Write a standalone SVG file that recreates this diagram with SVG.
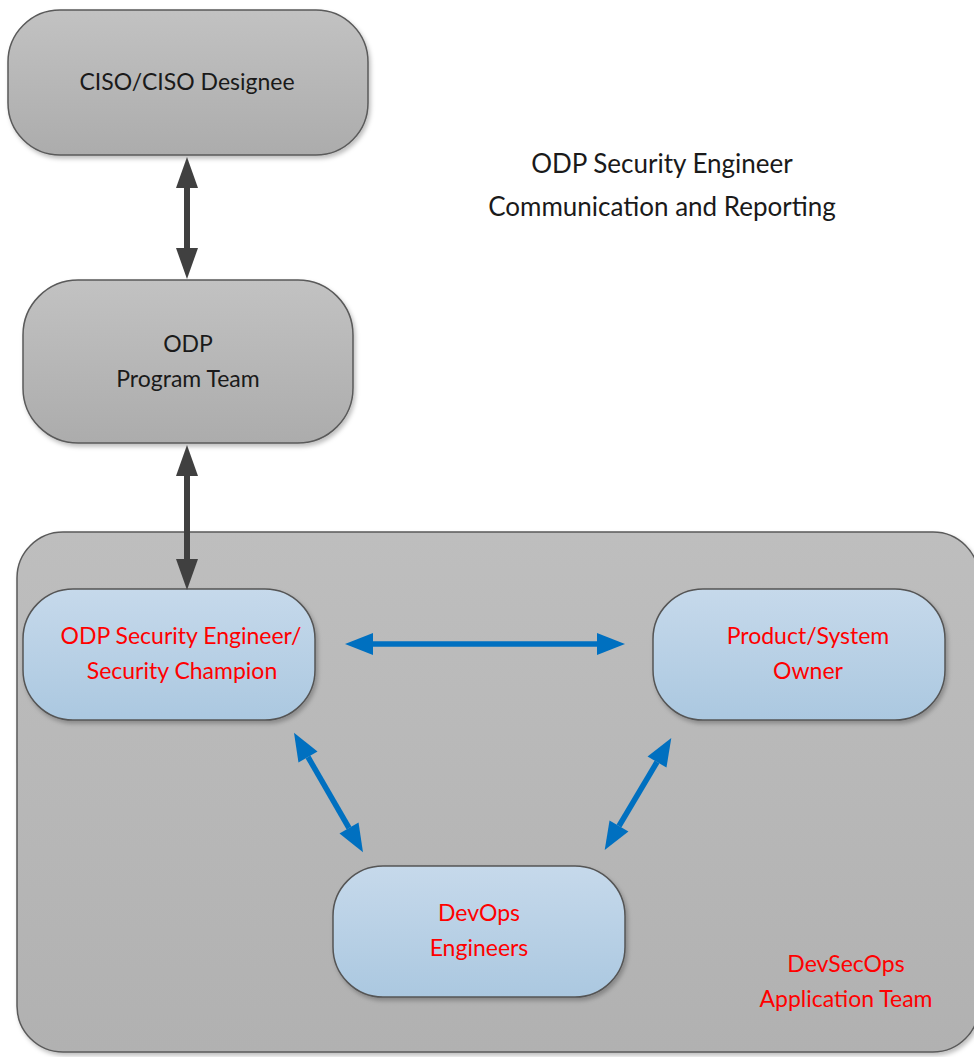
<svg xmlns="http://www.w3.org/2000/svg" width="974" height="1057" viewBox="0 0 974 1057">
<defs>
<linearGradient id="gGray" x1="0" y1="0" x2="0" y2="1">
<stop offset="0" stop-color="#c2c2c2"/><stop offset="1" stop-color="#acacac"/>
</linearGradient>
<linearGradient id="gCont" x1="0" y1="0" x2="0" y2="1">
<stop offset="0" stop-color="#bebebe"/><stop offset="1" stop-color="#b1b1b1"/>
</linearGradient>
<linearGradient id="gBlue" x1="0" y1="0" x2="0" y2="1">
<stop offset="0" stop-color="#c6d9eb"/><stop offset="1" stop-color="#abc8e0"/>
</linearGradient>
<filter id="sh" x="-5%" y="-5%" width="110%" height="115%">
<feDropShadow dx="2" dy="3" stdDeviation="2" flood-color="#000" flood-opacity="0.25"/>
</filter>
<marker id="hDark" markerUnits="userSpaceOnUse" markerWidth="32" markerHeight="24" refX="0" refY="12" orient="auto-start-reverse" overflow="visible">
<path d="M0,1 L31,12 L0,23 Z" fill="#404040"/>
</marker>
<marker id="hBlue" markerUnits="userSpaceOnUse" markerWidth="30" markerHeight="24" refX="0" refY="12" orient="auto-start-reverse" overflow="visible">
<path d="M0,1 L28,12 L0,23 Z" fill="#0070c0"/>
</marker>
<style>
.gray{fill:url(#gGray);stroke:#5a5a5a;stroke-width:1.5}
.blue{fill:url(#gBlue);stroke:#555;stroke-width:1.5}
.t{font-family:Lato,"Liberation Sans",sans-serif;font-size:23px;fill:#1a1a1a;text-anchor:middle}
.r{font-family:Lato,"Liberation Sans",sans-serif;font-size:23px;fill:#ff0000;text-anchor:middle}
.title{font-family:Lato,"Liberation Sans",sans-serif;font-size:26px;fill:#1a1a1a;text-anchor:middle}
.dk{stroke:#404040;stroke-width:6;fill:none;marker-start:url(#hDark);marker-end:url(#hDark)}
.bl{stroke:#0070c0;stroke-width:5.5;fill:none;marker-start:url(#hBlue);marker-end:url(#hBlue)}
</style>
</defs>
<rect width="974" height="1057" fill="#ffffff"/>

<g id="devsecops-team">
<rect x="17" y="532" width="962" height="520" rx="46" fill="url(#gCont)" stroke="#5a5a5a" stroke-width="1.5" filter="url(#sh)"/>
<text class="r" x="846" y="972">DevSecOps</text>
<text class="r" x="846" y="1007">Application Team</text>
</g>

<g id="title">
<text class="title" x="662" y="173">ODP Security Engineer</text>
<text class="title" x="662" y="216">Communication and Reporting</text>
</g>

<g id="ciso">
<rect class="gray" x="8" y="10" width="360" height="145" rx="52" filter="url(#sh)"/>
<text class="t" x="187" y="90">CISO/CISO Designee</text>
</g>

<g id="odp-program-team">
<rect class="gray" x="23" y="280" width="330" height="163" rx="55" filter="url(#sh)"/>
<text class="t" x="188" y="352">ODP</text>
<text class="t" x="188" y="387">Program Team</text>
</g>

<g id="security-engineer">
<rect class="blue" x="23" y="589" width="292" height="131" rx="50" filter="url(#sh)"/>
<text class="r" x="181" y="644">ODP Security Engineer/</text>
<text class="r" x="182" y="679">Security Champion</text>
</g>

<g id="product-owner">
<rect class="blue" x="653" y="589" width="292" height="131" rx="50" filter="url(#sh)"/>
<text class="r" x="808" y="644">Product/System</text>
<text class="r" x="808" y="679">Owner</text>
</g>

<g id="devops-engineers">
<rect class="blue" x="333" y="866" width="292" height="131" rx="50" filter="url(#sh)"/>
<text class="r" x="479" y="921">DevOps</text>
<text class="r" x="479" y="956">Engineers</text>
</g>

<g id="connectors">
<line class="dk" x1="187" y1="188" x2="187" y2="248"/>
<line class="dk" x1="187" y1="476" x2="187" y2="559"/>
<line class="bl" x1="373" y1="644" x2="597" y2="644"/>
<line class="bl" x1="308" y1="757" x2="349" y2="828"/>
<line class="bl" x1="657" y1="762" x2="619" y2="826"/>
</g>
</svg>
